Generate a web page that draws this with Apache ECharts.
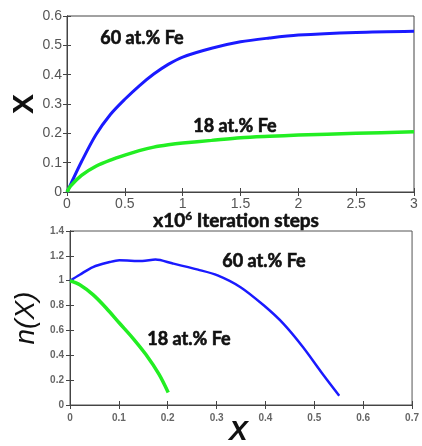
<!DOCTYPE html>
<html>
<head>
<meta charset="utf-8">
<script src="https://cdn.jsdelivr.net/npm/echarts@6/dist/echarts.min.js"></script>
<style>
  html, body { margin: 0; padding: 0; background: #fff; }
  #chart { width: 422px; height: 446px; }
</style>
</head>
<body>
<div id="chart"></div>
<script>
// top panel: X vs iteration steps (x10^6)
const steps = [0, 0.03, 0.125, 0.25, 0.375, 0.5, 0.625, 0.75, 0.875, 1, 1.25, 1.5, 1.75, 2, 2.5, 3];
const fe60Top = [0, 0.025, 0.103, 0.195, 0.264, 0.316, 0.362, 0.402, 0.435, 0.46, 0.49, 0.512, 0.525, 0.535, 0.544, 0.548];
const fe18Top = [0, 0.02, 0.057, 0.088, 0.109, 0.126, 0.141, 0.153, 0.161, 0.167, 0.176, 0.185, 0.19, 0.194, 0.2, 0.205];

// bottom panel: n(X) vs X
const fe60X = [0, 0.02, 0.047, 0.081, 0.101, 0.148, 0.175, 0.209, 0.262, 0.302, 0.349, 0.397, 0.437, 0.477, 0.517, 0.551];
const fe60N = [1.0, 1.048, 1.11, 1.15, 1.165, 1.158, 1.17, 1.14, 1.089, 1.043, 0.948, 0.8, 0.653, 0.465, 0.25, 0.075];
const fe18X = [0, 0.02, 0.047, 0.074, 0.101, 0.128, 0.155, 0.182, 0.201];
const fe18N = [1.0, 0.968, 0.888, 0.781, 0.66, 0.541, 0.408, 0.248, 0.101];

const pair = (xs, ys) => xs.map((x, i) => [x, ys[i]]);

const chart = echarts.init(document.getElementById('chart'));

const axisLine = { show: true, lineStyle: { color: '#444', width: 1 } };
const inTick = { show: true, inside: true, length: 4, lineStyle: { color: '#444' } };

const option = {
  animation: false,
  grid: [
    { left: 67, top: 16, width: 347, height: 176, show: true, borderColor: '#444', borderWidth: 1 },
    { left: 70, top: 231, width: 347, height: 174, show: true, borderColor: '#555', borderWidth: 1 }
  ],
  xAxis: [
    { gridIndex: 0, type: 'value', min: 0, max: 3, interval: 0.5,
      axisLine: axisLine, axisTick: inTick, splitLine: { show: false },
      axisLabel: { color: '#555', fontSize: 14, fontFamily: 'Arial', margin: 5 } },
    { gridIndex: 0, type: 'value', position: 'top', min: 0, max: 3, interval: 0.5,
      axisLine: axisLine, axisTick: inTick, axisLabel: { show: false }, splitLine: { show: false } },
    { gridIndex: 1, type: 'value', min: 0, max: 0.7, interval: 0.1,
      axisLine: axisLine, axisTick: inTick, splitLine: { show: false },
      axisLabel: { color: '#666', fontSize: 10, fontWeight: 'bold', fontFamily: 'Arial', margin: 8 } },
    { gridIndex: 1, type: 'value', position: 'top', min: 0, max: 0.7, interval: 0.1,
      axisLine: { show: false }, axisTick: inTick, axisLabel: { show: false }, splitLine: { show: false } }
  ],
  yAxis: [
    { gridIndex: 0, type: 'value', min: 0, max: 0.6, interval: 0.1,
      axisLine: axisLine, axisTick: inTick, splitLine: { show: false },
      axisLabel: { color: '#555', fontSize: 14, fontFamily: 'Arial', margin: 5 } },
    { gridIndex: 0, type: 'value', position: 'right', min: 0, max: 0.6, interval: 0.1,
      axisLine: axisLine, axisTick: inTick, axisLabel: { show: false }, splitLine: { show: false } },
    { gridIndex: 1, type: 'value', min: 0, max: 1.4, interval: 0.2,
      axisLine: axisLine, axisTick: inTick, splitLine: { show: false },
      axisLabel: { color: '#666', fontSize: 10, fontWeight: 'bold', fontFamily: 'Arial', margin: 6 } },
    { gridIndex: 1, type: 'value', position: 'right', min: 0, max: 1.4, interval: 0.2,
      axisLine: axisLine, axisTick: inTick, axisLabel: { show: false }, splitLine: { show: false } }
  ],
  series: [
    { name: '60 top', type: 'line', xAxisIndex: 0, yAxisIndex: 0, smooth: 0.3, showSymbol: false,
      lineStyle: { color: '#1a1aff', width: 3 }, data: pair(steps, fe60Top) },
    { name: '18 top', type: 'line', xAxisIndex: 0, yAxisIndex: 0, smooth: 0.3, showSymbol: false,
      lineStyle: { color: '#22ee22', width: 3.5 }, data: pair(steps, fe18Top) },
    { name: '60 bottom', type: 'line', xAxisIndex: 2, yAxisIndex: 2, smooth: 0.3, showSymbol: false,
      lineStyle: { color: '#1a1aff', width: 2.5 }, data: pair(fe60X, fe60N) },
    { name: '18 bottom', type: 'line', xAxisIndex: 2, yAxisIndex: 2, smooth: 0.3, showSymbol: false,
      lineStyle: { color: '#22ee22', width: 3.5 }, data: pair(fe18X, fe18N) }
  ],
  graphic: [
    { type: 'text', left: 100, top: 29, style: { text: '60 at.% Fe', font: 'bold 18px Lato', fill: '#111', stroke: '#111', lineWidth: 0.6 } },
    { type: 'text', left: 193, top: 117, style: { text: '18 at.% Fe', font: 'bold 18px Lato', fill: '#111', stroke: '#111', lineWidth: 0.6 } },
    { type: 'text', left: 222, top: 252, style: { text: '60 at.% Fe', font: 'bold 18px Lato', fill: '#111', stroke: '#111', lineWidth: 0.6 } },
    { type: 'text', left: 147, top: 330, style: { text: '18 at.% Fe', font: 'bold 18px Lato', fill: '#111', stroke: '#111', lineWidth: 0.6 } },
    { type: 'text', x: 25, y: 104, rotation: Math.PI / 2, style: {
        text: 'X', font: 'bold 30px Liberation Sans', fill: '#111', align: 'center', verticalAlign: 'middle' } },
    { type: 'text', left: 153, top: 210, style: {
        text: '{b|x10}{s|6}{b| Iteration steps}',
        rich: {
          b: { font: 'bold 19px Lato', fill: '#111', stroke: '#111', lineWidth: 0.6, verticalAlign: 'bottom' },
          s: { font: 'bold 12px Lato', fill: '#111', stroke: '#111', lineWidth: 0.4, padding: [0, 0, 8, 0], verticalAlign: 'bottom' }
        } } },
    { type: 'text', x: 26, y: 318, rotation: Math.PI / 2, style: {
        text: 'n(X)', font: 'italic 28px Liberation Sans', fill: '#111', align: 'center', verticalAlign: 'middle' } },
    { type: 'text', left: 229, top: 418, style: { text: 'X', font: 'italic bold 28px Liberation Sans', fill: '#111' } }
  ]
};

chart.setOption(option);
window.addEventListener('resize', function () {
  chart.resize();
});
</script>
</body>
</html>
